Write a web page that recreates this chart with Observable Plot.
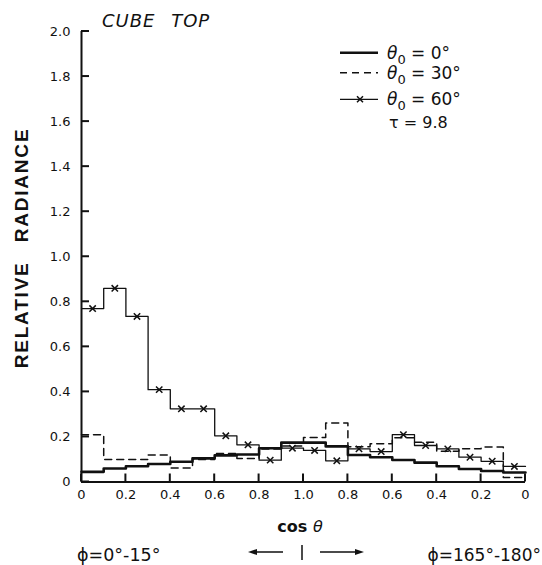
<!DOCTYPE html>
<html>
<head>
<meta charset="utf-8">
<script src="https://cdn.jsdelivr.net/npm/d3@7"></script>
<script src="https://cdn.jsdelivr.net/npm/@observablehq/plot@0.6"></script>
<style>
  html, body { margin: 0; padding: 0; background: #fff; }
  #wrap { position: relative; width: 542px; height: 565px; }
  #wrap > svg { position: absolute; left: 0; top: 0; }
  #notes { pointer-events: none; }
</style>
</head>
<body>
<div id="wrap"></div>
<script>
// Folded abscissa: 0 → 1 is cos θ for φ = 0°–15°, 1 → 2 runs cos θ back from 1 to 0 for φ = 165°–180°.
const binEdges = [0, 0.1, 0.2, 0.3, 0.4, 0.5, 0.6, 0.7, 0.8, 0.9, 1.0,
                  1.1, 1.2, 1.3, 1.4, 1.5, 1.6, 1.7, 1.8, 1.9, 2.0];

// Relative radiance in each cos θ bin, cube top, τ = 9.8
const radiance0 = [0.045, 0.060, 0.070, 0.080, 0.090, 0.105, 0.118, 0.122, 0.150, 0.175,
                   0.175, 0.158, 0.120, 0.110, 0.098, 0.086, 0.070, 0.058, 0.049, 0.042];
const radiance30 = [0.210, 0.100, 0.100, 0.120, 0.062, 0.100, 0.127, 0.104, 0.146, 0.160,
                    0.198, 0.262, 0.156, 0.170, 0.196, 0.177, 0.136, 0.148, 0.155, 0.020];
const radiance60 = [0.770, 0.860, 0.735, 0.410, 0.325, 0.325, 0.205, 0.165, 0.097, 0.150,
                    0.140, 0.094, 0.147, 0.135, 0.210, 0.162, 0.147, 0.110, 0.092, 0.069];

const xTicks = [0, 0.2, 0.4, 0.6, 0.8, 1.0, 1.2, 1.4, 1.6, 1.8, 2.0];
const xTickLabels = ["0", "0.2", "0.4", "0.6", "0.8", "1.0", "0.8", "0.6", "0.4", "0.2", "0"];
const yTicks = [0, 0.2, 0.4, 0.6, 0.8, 1.0, 1.2, 1.4, 1.6, 1.8, 2.0];
const yTickLabels = ["0", "0.2", "0.4", "0.6", "0.8", "1.0", "1.2", "1.4", "1.6", "1.8", "2.0"];

// Step outline: each bin value held from its left edge, closed at the last edge
const steps = (values) => binEdges.map((x, i) => ({x, y: values[Math.min(i, values.length - 1)]}));
const centers = (values) => values.map((y, i) => ({x: (binEdges[i] + binEdges[i + 1]) / 2, y}));

const ink = "#111";
const fmtX = (d) => xTickLabels[xTicks.indexOf(d)];
const fmtY = (d) => yTickLabels[yTicks.indexOf(d)];

const chart = Plot.plot({
  width: 542,
  height: 565,
  marginLeft: 81,
  marginRight: 17,
  marginTop: 31,
  marginBottom: 83.5,
  style: {fontFamily: "'DejaVu Sans', sans-serif", fontSize: "13px", color: ink, background: "transparent"},
  x: {domain: [0, 2]},
  y: {domain: [0, 2]},
  marks: [
    // tick labels
    Plot.axisX(xTicks, {tickSize: 0, tickPadding: 8, tickFormat: fmtX, label: null, fill: ink}),
    Plot.axisY(yTicks, {tickSize: 0, tickPadding: 11, tickFormat: fmtY, label: null, fill: ink}),
    // axis lines
    Plot.ruleX([0], {stroke: ink, strokeWidth: 2}),
    Plot.ruleY([0], {stroke: ink, strokeWidth: 2}),
    // θ0 = 30°
    Plot.line(steps(radiance30), {x: "x", y: "y", curve: "step-after", stroke: ink, strokeWidth: 1.5, strokeDasharray: "7,5"}),
    // θ0 = 60°
    Plot.line(steps(radiance60), {x: "x", y: "y", curve: "step-after", stroke: ink, strokeWidth: 1.3}),
    Plot.dot(centers(radiance60), {x: "x", y: "y", symbol: "times", r: 3, stroke: ink, strokeWidth: 1.5}),
    // θ0 = 0°
    Plot.line(steps(radiance0), {x: "x", y: "y", curve: "step-after", stroke: ink, strokeWidth: 2.6})
  ]
});

document.getElementById("wrap").appendChild(chart);

const sx = chart.scale("x");
const sy = chart.scale("y");
const x0 = sx.apply(0);
const y0 = sy.apply(0);

// Overlay: inward tick marks, title, axis titles, legend and the φ ranges along the bottom
const notes = d3.select("#wrap").append("svg")
  .attr("id", "notes")
  .attr("width", 542).attr("height", 565)
  .style("font-family", "'DejaVu Sans', sans-serif")
  .attr("fill", ink);

notes.append("g").attr("stroke", ink).attr("stroke-width", 2)
  .selectAll("line").data(xTicks).join("line")
  .attr("x1", (d) => sx.apply(d)).attr("x2", (d) => sx.apply(d))
  .attr("y1", y0).attr("y2", y0 - 8);
notes.append("g").attr("stroke", ink).attr("stroke-width", 2)
  .selectAll("line").data(yTicks).join("line")
  .attr("y1", (d) => sy.apply(d)).attr("y2", (d) => sy.apply(d))
  .attr("x1", x0).attr("x2", x0 + 8);

notes.append("text")
  .attr("x", 102).attr("y", 27)
  .attr("font-size", 18).attr("font-style", "italic")
  .attr("letter-spacing", 1).attr("word-spacing", 9)
  .text("CUBE TOP");

notes.append("text")
  .attr("transform", "translate(28,248) rotate(-90)")
  .attr("text-anchor", "middle")
  .attr("font-family", "'Liberation Sans', sans-serif")
  .attr("font-size", 19).attr("font-weight", "bold")
  .attr("letter-spacing", 1.8).attr("word-spacing", 12)
  .text("RELATIVE  RADIANCE");

const legendRows = [
  {label: "0°", y: 52.7, dash: null, width: 2.6, marker: false},
  {label: "30°", y: 72.7, dash: "7,5", width: 1.5, marker: false},
  {label: "60°", y: 99.3, dash: null, width: 1.3, marker: true}
];
for (const row of legendRows) {
  notes.append("line")
    .attr("x1", 340).attr("x2", 378).attr("y1", row.y).attr("y2", row.y)
    .attr("stroke", ink).attr("stroke-width", row.width)
    .attr("stroke-dasharray", row.dash);
  if (row.marker) {
    notes.append("path")
      .attr("d", `M${357},${row.y - 3}l6,6M${357},${row.y + 3}l6,-6`)
      .attr("stroke", ink).attr("stroke-width", 1.5);
  }
  const t = notes.append("text").attr("x", 387).attr("y", row.y + 6).attr("font-size", 17);
  t.append("tspan").attr("font-style", "italic").text("θ");
  t.append("tspan").attr("font-size", 13).attr("dy", 5).text("0");
  t.append("tspan").attr("dy", -5).text(" = " + row.label);
}
notes.append("text")
  .attr("x", 389).attr("y", 128).attr("font-size", 16)
  .text("τ = 9.8");

const xTitle = notes.append("text")
  .attr("x", 300).attr("y", 532).attr("text-anchor", "middle")
  .attr("font-size", 16).attr("font-weight", "bold");
xTitle.append("tspan").text("cos ");
xTitle.append("tspan").attr("font-style", "italic").attr("font-weight", "normal").text("θ");

notes.append("text")
  .attr("x", 77).attr("y", 561).attr("font-size", 17.5)
  .text("ϕ=0°-15°");
notes.append("text")
  .attr("x", 541).attr("y", 561).attr("font-size", 17).attr("text-anchor", "end")
  .text("ϕ=165°-180°");

// direction arrows either side of cos θ = 1
notes.append("path")
  .attr("d", "M283,552H252M320,552H360M302,545V560")
  .attr("stroke", ink).attr("stroke-width", 1.5).attr("fill", "none");
notes.append("path").attr("d", "M248,552l9,-3v6z").attr("fill", ink);
notes.append("path").attr("d", "M364,552l-9,-3v6z").attr("fill", ink);
</script>
</body>
</html>
